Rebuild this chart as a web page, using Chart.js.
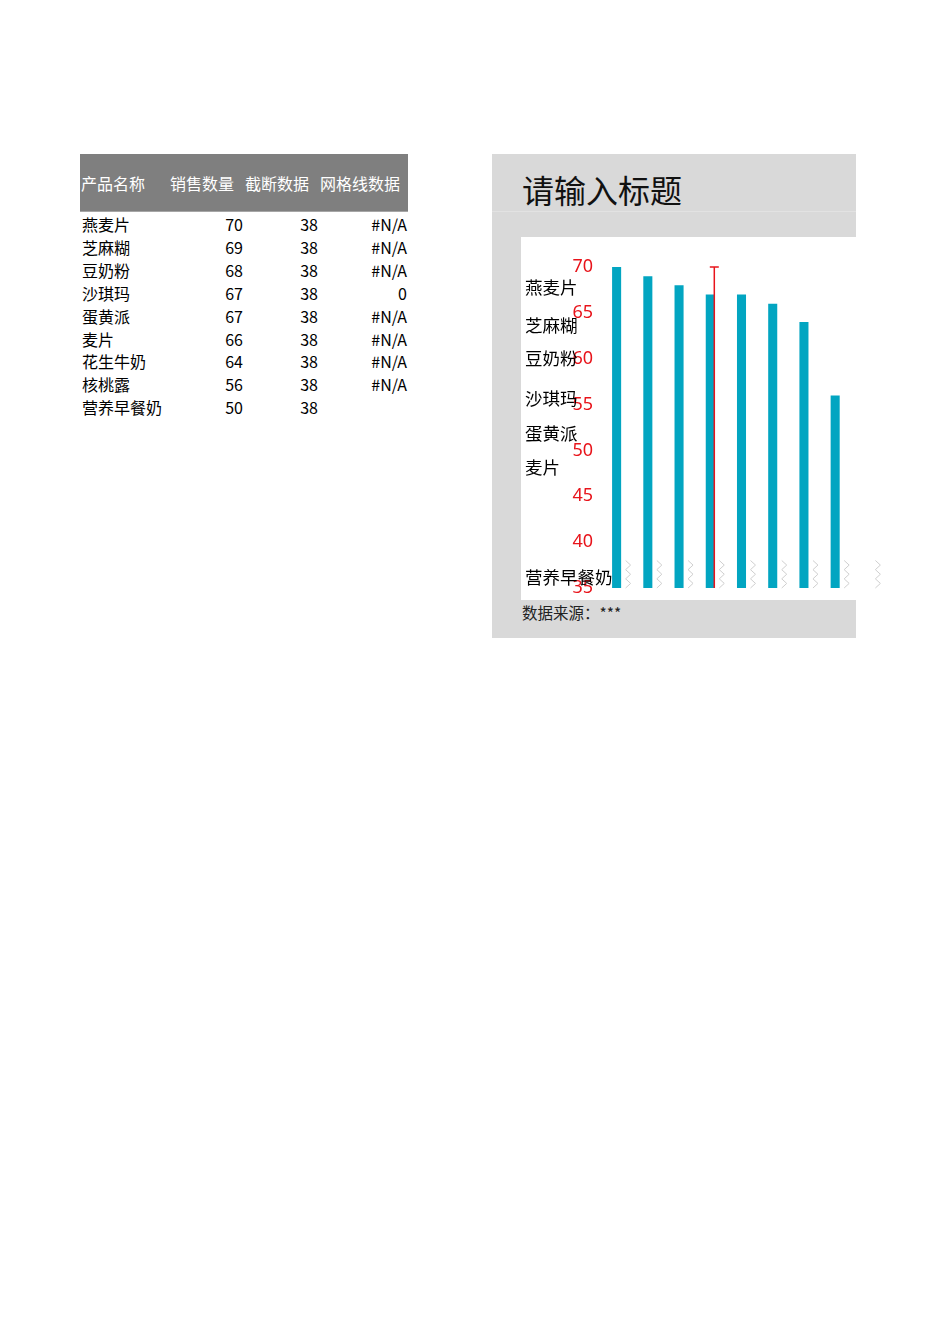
<!DOCTYPE html>
<html><head><meta charset="utf-8">
<script src="https://cdn.jsdelivr.net/npm/chart.js@4"></script>
<style>
html,body{margin:0;padding:0;background:#fff;width:950px;height:1344px;overflow:hidden;font-family:"Noto Sans CJK SC","Noto Sans",sans-serif;}
.abs{position:absolute;white-space:nowrap;}
#tbl{position:absolute;left:80px;top:154px;border-collapse:collapse;table-layout:fixed;font-size:16px;color:#000;}
#tbl th{background:#7f7f7f;color:#fff;font-weight:normal;height:57px;padding:0 0 0 1px;text-align:left;border-bottom:1px solid #a6a6a6;}
#tbl td{height:22.9px;padding:0 1px 0 2px;line-height:22.9px;}
#tbl td.n{text-align:right;}
#box{position:absolute;left:492px;top:154px;width:364px;height:484px;background:#d9d9d9;}
#sep{position:absolute;left:492px;top:211px;width:364px;height:1px;background:#e2e2e2;}
#plot{position:absolute;left:521px;top:237px;width:335px;height:363px;background:#fff;}
#title{left:522px;top:168px;font-size:32px;line-height:42px;color:#111;}
#src{left:522px;top:601px;font-size:15.5px;line-height:22px;color:#222;}
#cv{position:absolute;left:492px;top:154px;}
.cat{font-size:17.5px;line-height:22px;color:#000;}
</style></head>
<body>
<table id="tbl">
<colgroup><col style="width:89px"><col style="width:75px"><col style="width:75px"><col style="width:89px"></colgroup>
<thead><tr id="hdr"></tr></thead>
<tbody id="tb"></tbody>
</table>
<div id="box"></div>
<div id="sep"></div>
<div id="plot"></div>
<div class="abs" id="title">请输入标题</div>
<div class="abs" id="src">数据来源：***</div>
<canvas id="cv" width="400" height="484"></canvas>
<script>
// ---- data ----
const headers = ["产品名称", "销售数量", "截断数据", "网格线数据"];
const categories = ["燕麦片", "芝麻糊", "豆奶粉", "沙琪玛", "蛋黄派", "麦片", "花生牛奶", "核桃露", "营养早餐奶"];
const sales = [70, 69, 68, 67, 67, 66, 64, 56, 50];
const cutoff = [38, 38, 38, 38, 38, 38, 38, 38, 38];
const gridLine = [null, null, null, 0, null, null, null, null, undefined];
const gridErrPlus = 70;
const yTicks = [35, 40, 45, 50, 55, 60, 65, 70];
// category labels shown at the chart's left side (index into categories)
const sideLabelIdx = [0, 1, 2, 3, 4, 5, 8];
const sideLabelTop = [276, 314, 347, 387, 422, 456, 566];

// ---- table ----
const hdr = document.getElementById('hdr');
headers.forEach(h => { const th = document.createElement('th'); th.textContent = h; hdr.appendChild(th); });
const tb = document.getElementById('tb');
categories.forEach((c, i) => {
  const tr = document.createElement('tr');
  const g = gridLine[i] === undefined ? '' : (gridLine[i] === null ? '#N/A' : String(gridLine[i]));
  [[c, ''], [sales[i], 'n'], [cutoff[i], 'n'], [g, 'n']].forEach(([v, cl]) => {
    const td = document.createElement('td'); td.textContent = v; if (cl) td.className = cl; tr.appendChild(td);
  });
  tb.appendChild(tr);
});
tb.firstChild.querySelectorAll('td').forEach(td => td.style.paddingTop = '1px');

// ---- side labels ----
sideLabelIdx.forEach((ci, k) => {
  const d = document.createElement('div');
  d.className = 'abs cat'; d.textContent = categories[ci];
  d.style.left = '525px'; d.style.top = sideLabelTop[k] + 'px';
  document.body.appendChild(d);
});

// ---- chart ----
const overlay = {
  id: 'overlay',
  afterDatasetsDraw(chart) {
    const ctx = chart.ctx, xs = chart.scales.x, ys = chart.scales.y, area = chart.chartArea;
    const meta = chart.getDatasetMeta(0);
    ctx.save();
    // break marks (截断数据)
    ctx.strokeStyle = '#cfcfcf'; ctx.lineWidth = 1;
    cutoff.forEach((v, i) => {
      const cx = xs.getPixelForValue(i) + 11.5;
      const top = ys.getPixelForValue(v), bot = ys.getPixelForValue(ys.min);
      const n = 3, h = (bot - top) / n;
      ctx.beginPath(); ctx.moveTo(cx - 2.5, top);
      for (let k = 0; k < n; k++) { ctx.lineTo(cx + 2.5, top + h * (k + 0.5)); ctx.lineTo(cx - 2.5, top + h * (k + 1)); }
      ctx.stroke();
    });
    // error bar (网格线数据)
    ctx.strokeStyle = '#e8141b'; ctx.lineWidth = 1.5;
    gridLine.forEach((v, i) => {
      if (v === null || v === undefined) return;
      const el = meta.data[i];
      const bx = el.x + el.width / 2 - 0.5;
      const y0 = Math.min(ys.getPixelForValue(v), area.bottom);
      const y1 = ys.getPixelForValue(v + gridErrPlus);
      ctx.beginPath(); ctx.moveTo(bx, y0); ctx.lineTo(bx, y1);
      ctx.moveTo(bx - 4.5, y1); ctx.lineTo(bx + 4.5, y1); ctx.stroke();
    });
    ctx.restore();
  }
};

new Chart(document.getElementById('cv'), {
  type: 'bar',
  data: {
    labels: categories,
    datasets: [{
      label: '销售数量', data: sales, backgroundColor: '#02a5c1',
      categoryPercentage: 1, barPercentage: 0.29,
      clip: { left: 0, top: 5, right: -26, bottom: 0 }
    }]
  },
  options: {
    responsive: false, animation: false, devicePixelRatio: 1,
    layout: { padding: { left: 0, right: 10, top: 113, bottom: 50 } },
    plugins: { legend: { display: false }, tooltip: { enabled: false } },
    scales: {
      x: { display: false },
      y: {
        min: 35, max: 70,
        afterFit(s) { s.width = 109; },
        afterBuildTicks(s) { s.ticks = yTicks.map(v => ({ value: v })); },
        border: { display: false },
        grid: { display: false, drawTicks: false },
        ticks: { color: '#e8141b', padding: 8, font: { family: 'Noto Sans', size: 18 } }
      }
    }
  },
  plugins: [overlay]
});
</script>
</body></html>
